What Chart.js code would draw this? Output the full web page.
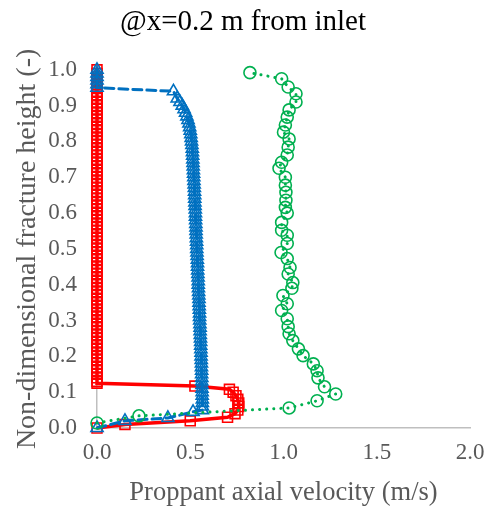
<!DOCTYPE html>
<html>
<head>
<meta charset="utf-8">
<script src="https://cdn.jsdelivr.net/npm/chart.js@4/dist/chart.umd.min.js"></script>
<style>
  body { margin: 0; background: #fff; }
</style>
</head>
<body>
<canvas id="grafico" width="485" height="509"></canvas>
<script>
// tick labels
const xTicks = [0.0, 0.5, 1.0, 1.5, 2.0];
const yTicks = [0.0, 0.1, 0.2, 0.3, 0.4, 0.5, 0.6, 0.7, 0.8, 0.9, 1.0];

// red series (solid, squares) - lower bend
const redVel = [0.00, 0.15, 0.50, 0.70, 0.74, 0.755, 0.76, 0.76, 0.755, 0.745, 0.73, 0.71, 0.525, 0.00];
const redH   = [0.000, 0.010, 0.020, 0.030, 0.040, 0.050, 0.060, 0.070, 0.080, 0.090, 0.100, 0.108, 0.117, 0.125];
// red series - heights where velocity is zero
const redZeroH = [0.13, 0.14, 0.15, 0.16, 0.17, 0.18, 0.19, 0.20, 0.21, 0.22, 0.23, 0.24, 0.25, 0.26, 0.27, 0.28, 0.29,
  0.30, 0.31, 0.32, 0.33, 0.34, 0.35, 0.36, 0.37, 0.38, 0.39, 0.40, 0.41, 0.42, 0.43, 0.44, 0.45, 0.46, 0.47, 0.48, 0.49,
  0.50, 0.51, 0.52, 0.53, 0.54, 0.55, 0.56, 0.57, 0.58, 0.59, 0.60, 0.61, 0.62, 0.63, 0.64, 0.65, 0.66, 0.67, 0.68, 0.69,
  0.70, 0.71, 0.72, 0.73, 0.74, 0.75, 0.76, 0.77, 0.78, 0.79, 0.80, 0.81, 0.82, 0.83, 0.84, 0.85, 0.86, 0.87, 0.88, 0.89,
  0.90, 0.91, 0.92, 0.93, 0.94, 0.95, 0.96, 0.97, 0.98, 0.99, 1.00];

// blue series (dashed, triangles)
const blueVel = [0.00, 0.15, 0.38, 0.515,
  0.565, 0.565, 0.565, 0.565, 0.564, 0.564, 0.563, 0.563, 0.562, 0.562, 0.561,
  0.561, 0.560, 0.560, 0.559, 0.558, 0.558, 0.557, 0.556, 0.556, 0.555,
  0.554, 0.553, 0.553, 0.552, 0.551, 0.550, 0.550, 0.549, 0.548, 0.547,
  0.547, 0.546, 0.545, 0.544, 0.543, 0.543, 0.542, 0.541, 0.540, 0.539,
  0.539, 0.538, 0.537, 0.536, 0.535, 0.535, 0.534, 0.533, 0.532, 0.531,
  0.531, 0.530, 0.529, 0.528, 0.528, 0.527, 0.526, 0.525, 0.524, 0.524,
  0.523, 0.522, 0.521, 0.520, 0.519, 0.518, 0.517, 0.516, 0.515, 0.514,
  0.513, 0.512, 0.511, 0.509, 0.507, 0.505, 0.503, 0.500, 0.497, 0.493,
  0.488, 0.482, 0.475, 0.467, 0.457, 0.445, 0.430, 0.410,
  0.00, 0.00, 0.00, 0.00, 0.00, 0.00];
const blueH = [0.000, 0.020, 0.028, 0.045,
  0.05, 0.06, 0.07, 0.08, 0.09, 0.10, 0.11, 0.12, 0.13, 0.14, 0.15,
  0.16, 0.17, 0.18, 0.19, 0.20, 0.21, 0.22, 0.23, 0.24, 0.25,
  0.26, 0.27, 0.28, 0.29, 0.30, 0.31, 0.32, 0.33, 0.34, 0.35,
  0.36, 0.37, 0.38, 0.39, 0.40, 0.41, 0.42, 0.43, 0.44, 0.45,
  0.46, 0.47, 0.48, 0.49, 0.50, 0.51, 0.52, 0.53, 0.54, 0.55,
  0.56, 0.57, 0.58, 0.59, 0.60, 0.61, 0.62, 0.63, 0.64, 0.65,
  0.66, 0.67, 0.68, 0.69, 0.70, 0.71, 0.72, 0.73, 0.74, 0.75,
  0.76, 0.77, 0.78, 0.79, 0.80, 0.81, 0.82, 0.83, 0.84, 0.85,
  0.86, 0.87, 0.88, 0.89, 0.90, 0.91, 0.92, 0.94,
  0.95, 0.96, 0.97, 0.98, 0.99, 1.00];

// green series (dotted, circles)
const greenVel = [0.00, 0.225, 1.03, 1.18, 1.28, 1.22, 1.185, 1.18, 1.16, 1.105, 1.08, 1.05, 1.03, 1.025, 1.02, 0.99,
  1.02, 0.997, 1.045, 1.05, 1.025, 1.035, 1.02, 0.987, 1.02, 1.02, 0.99, 0.99, 1.02, 1.01, 1.013, 1.013, 1.01, 1.01,
  0.976, 0.99, 1.02, 1.025, 1.03, 1.00, 1.01, 1.02, 1.03, 1.067, 1.067, 1.025, 0.99, 0.82];
const greenH = [0.014, 0.034, 0.056, 0.076, 0.095, 0.115, 0.140, 0.160, 0.179, 0.202, 0.221, 0.244, 0.263, 0.283, 0.305, 0.328,
  0.347, 0.370, 0.390, 0.406, 0.430, 0.448, 0.473, 0.490, 0.515, 0.538, 0.552, 0.574, 0.600, 0.616, 0.636, 0.658, 0.678, 0.700,
  0.725, 0.742, 0.762, 0.784, 0.807, 0.826, 0.846, 0.868, 0.888, 0.910, 0.933, 0.952, 0.975, 0.992];

function puntos(vel, h) {
  return vel.map((v, i) => ({ x: v, y: h[i] }));
}

const redData = puntos(redVel, redH).concat(redZeroH.map(h => ({ x: 0, y: h })));
const blueData = puntos(blueVel, blueH);
const greenData = puntos(greenVel, greenH);

const serif = 'Liberation Serif, Times New Roman, serif';
const gris = '#595959';
const vacio = 'rgba(255,255,255,0)';

new Chart(document.getElementById('grafico'), {
  type: 'scatter',
  data: {
    datasets: [
      {
        data: greenData,
        showLine: true,
        clip: false,
        order: 1,
        borderColor: '#00b050',
        borderWidth: 3,
        borderDash: [0.1, 7],
        borderCapStyle: 'round',
        pointStyle: 'circle',
        pointRadius: 6,
        pointBorderWidth: 1.6,
        pointBorderColor: '#00b050',
        pointBackgroundColor: vacio
      },
      {
        data: blueData,
        showLine: true,
        clip: false,
        order: 2,
        borderColor: '#0070c0',
        borderWidth: 3,
        borderDash: [9, 5],
        borderCapStyle: 'round',
        pointStyle: 'triangle',
        pointRadius: 7,
        pointBorderWidth: 1.6,
        pointBorderColor: '#0070c0',
        pointBackgroundColor: vacio
      },
      {
        data: redData,
        showLine: true,
        clip: false,
        order: 3,
        borderColor: '#ff0000',
        borderWidth: 3.5,
        pointStyle: 'rect',
        pointRadius: 7,
        pointBorderWidth: 1.6,
        pointBorderColor: '#ff0000',
        pointBackgroundColor: vacio
      }
    ]
  },
  options: {
    responsive: false,
    animation: false,
    devicePixelRatio: 1,
    layout: { padding: { top: 0, right: 15, bottom: 0, left: 16 } },
    plugins: {
      legend: { display: false },
      tooltip: { enabled: false },
      title: {
        display: true,
        text: '@x=0.2 m from inlet',
        color: '#000',
        font: { family: serif, size: 29, weight: 'normal' },
        padding: { top: 5, bottom: 30 }
      }
    },
    scales: {
      x: {
        type: 'linear',
        min: 0,
        max: 2,
        afterBuildTicks: s => { s.ticks = xTicks.map(v => ({ value: v })); },
        afterFit: s => { s.height = 81; s.paddingRight = 0; s.paddingLeft = 0; },
        grid: { display: false, drawTicks: false },
        border: { display: true, color: '#bfbfbf', width: 1.5 },
        ticks: {
          color: gris,
          padding: 11,
          font: { family: serif, size: 23 },
          callback: v => v.toFixed(1)
        },
        title: {
          display: true,
          text: 'Proppant axial velocity (m/s)',
          color: gris,
          padding: 0,
          font: { family: serif, size: 26.5 }
        }
      },
      y: {
        type: 'linear',
        min: 0,
        max: 1,
        afterBuildTicks: s => { s.ticks = yTicks.map(v => ({ value: v })); },
        afterFit: s => { s.width = 81; },
        grid: { display: false, drawTicks: false },
        border: { display: true, color: '#bfbfbf', width: 1.5 },
        ticks: {
          color: gris,
          padding: 20,
          font: { family: serif, size: 23 },
          callback: v => v.toFixed(1)
        },
        title: {
          display: true,
          text: 'Non-dimensional fracture height (-)',
          color: gris,
          padding: { top: -5, bottom: 0 },
          font: { family: serif, size: 28 }
        }
      }
    }
  }
});
</script>
</body>
</html>
